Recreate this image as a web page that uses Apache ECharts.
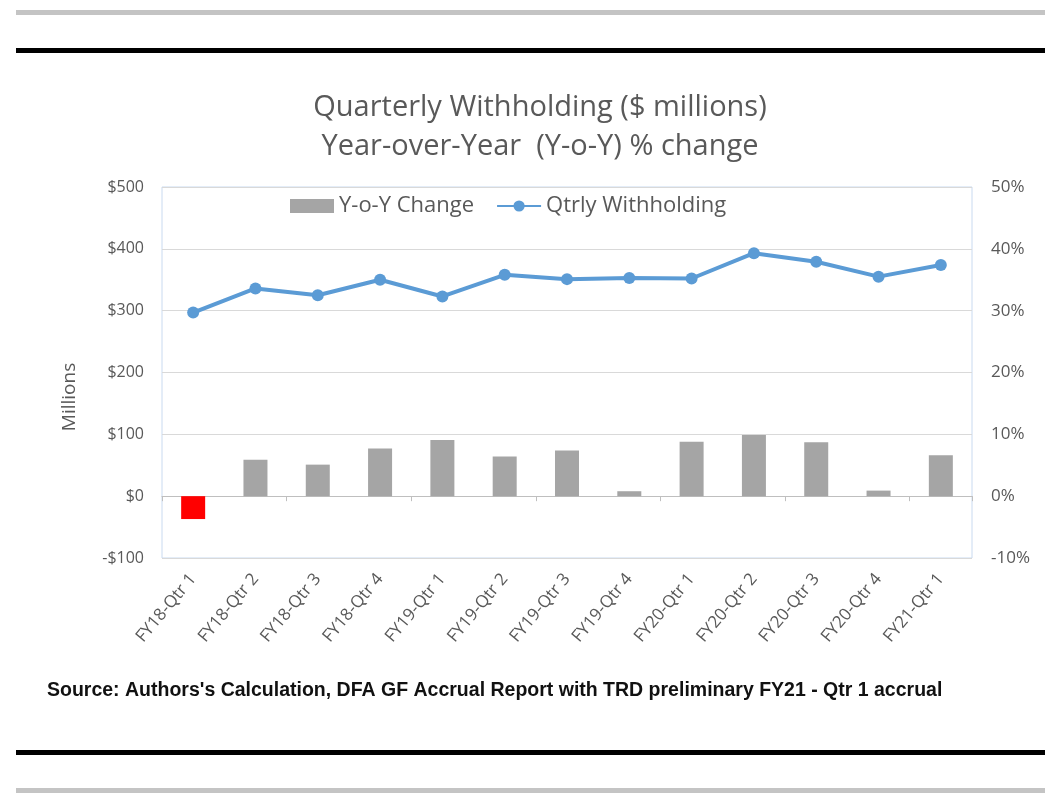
<!DOCTYPE html>
<html><head><meta charset="utf-8">
<script src="https://cdn.jsdelivr.net/npm/echarts@6/dist/echarts.min.js"></script>
<style>html,body{margin:0;padding:0;background:#fff}#c{width:1045px;height:793px}</style>
</head><body><div id="c"></div>
<script>
const categories = ['FY18-Qtr 1','FY18-Qtr 2','FY18-Qtr 3','FY18-Qtr 4','FY19-Qtr 1','FY19-Qtr 2','FY19-Qtr 3','FY19-Qtr 4','FY20-Qtr 1','FY20-Qtr 2','FY20-Qtr 3','FY20-Qtr 4','FY21-Qtr 1'];
const yoyChange = [-3.7, 5.9, 5.1, 7.7, 9.1, 6.4, 7.4, 0.8, 8.8, 9.9, 8.7, 0.9, 6.6];
const qtrlyWithholding = [297, 336, 325, 350, 323, 358, 351, 353, 352, 393, 379, 355, 374];
const leftTicks = {min: -100, max: 500, interval: 100};
const rightTicks = {min: -10, max: 50, interval: 10};

const FONT = '"Open Sans", "Liberation Sans", sans-serif';
const chart = echarts.init(document.getElementById('c'), null, {renderer: 'canvas'});
chart.setOption({
  backgroundColor: '#fff',
  animation: false,
  title: {
    text: 'Quarterly Withholding ($ millions)\nYear-over-Year  (Y-o-Y) % change',
    left: 535, top: 83, textAlign: 'center',
    textStyle: {fontFamily: FONT, fontSize: 29, fontWeight: 'normal', color: '#595959', lineHeight: 39}
  },
  legend: {
    top: 190, left: 285, itemGap: 22,
    textStyle: {fontFamily: FONT, fontSize: 22, color: '#595959'},
    data: [
      {name: 'Y-o-Y Change', icon: 'rect', itemStyle: {color: '#a5a5a5'}},
      {name: 'Qtrly Withholding'}
    ],
    itemWidth: 44, itemHeight: 14
  },
  grid: {left: 162, right: 73, top: 187, bottom: 235, show: true, borderColor: '#c9daf0', borderWidth: 1},
  xAxis: [
    {type: 'category', data: categories, position: 'bottom', axisLine: {show: false, onZero: false},
     axisTick: {show: false},
     axisLabel: {rotate: 50, margin: 18, fontFamily: FONT, fontSize: 17, color: '#595959', interval: 0}},
    {type: 'category', data: categories, position: 'bottom',
     axisLine: {show: true, onZero: true, lineStyle: {color: '#bfbfbf', width: 1}},
     axisTick: {show: true, length: 5, inside: false, lineStyle: {color: '#bfbfbf'}},
     axisLabel: {show: false}}
  ],
  yAxis: [
    {type: 'value', min: leftTicks.min, max: leftTicks.max, interval: leftTicks.interval,
     axisLine: {show: false}, axisTick: {show: false},
     axisLabel: {margin: 18, fontFamily: FONT, fontSize: 16, color: '#595959',
       formatter: v => (v < 0 ? '-$' + Math.abs(v) : '$' + v)},
     splitLine: {lineStyle: {color: '#d9d9d9', width: 1}}},
    {type: 'value', min: rightTicks.min, max: rightTicks.max, interval: rightTicks.interval,
     position: 'right', axisLine: {show: false}, axisTick: {show: false},
     axisLabel: {margin: 19, fontFamily: FONT, fontSize: 17, color: '#595959', formatter: '{value}%'},
     splitLine: {show: false}}
  ],
  series: [
    {name: 'Y-o-Y Change', type: 'bar', xAxisIndex: 0, yAxisIndex: 1, barWidth: 24,
     itemStyle: {color: '#a5a5a5'},
     data: yoyChange.map(v => v < 0 ? {value: v, itemStyle: {color: '#ff0000'}} : v)},
    {name: 'Qtrly Withholding', type: 'line', xAxisIndex: 0, yAxisIndex: 0,
     symbol: 'circle', symbolSize: 12,
     lineStyle: {color: '#5b9bd5', width: 4}, itemStyle: {color: '#5b9bd5'},
     data: qtrlyWithholding}
  ],
  graphic: [
    {type: 'rect', shape: {x: 16, y: 10, width: 1029, height: 5}, style: {fill: '#c4c4c4'}},
    {type: 'rect', shape: {x: 16, y: 48, width: 1029, height: 5}, style: {fill: '#000'}},
    {type: 'rect', shape: {x: 16, y: 750, width: 1029, height: 5}, style: {fill: '#000'}},
    {type: 'rect', shape: {x: 16, y: 788, width: 1029, height: 5}, style: {fill: '#c4c4c4'}},
    {type: 'text', x: 70, y: 397, rotation: Math.PI / 2,
     style: {text: 'Millions', fontFamily: FONT, fontSize: 19, fill: '#595959', align: 'center', verticalAlign: 'middle'}},
    {type: 'text', left: 47, top: 681,
     style: {text: "Source: Authors's Calculation, DFA GF Accrual Report with TRD preliminary FY21 - Qtr 1 accrual",
       fontFamily: '"Liberation Sans", sans-serif', fontSize: 19.5, fontWeight: 'bold', fill: '#111'}}
  ]
});
</script></body></html>
